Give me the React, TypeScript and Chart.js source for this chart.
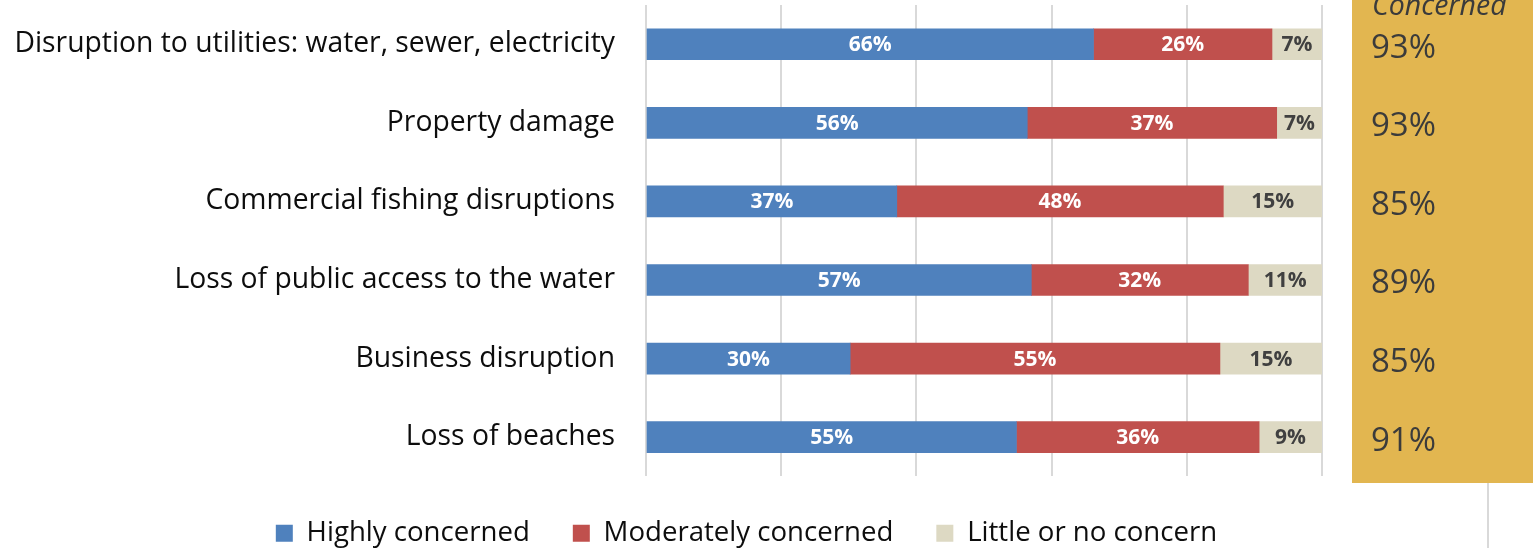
import { useEffect, useRef } from 'react';
import { Chart, registerables } from 'chart.js';

Chart.register(...registerables);

const categories = [
  'Disruption to utilities: water, sewer, electricity',
  'Property damage',
  'Commercial fishing disruptions',
  'Loss of public access to the water',
  'Business disruption',
  'Loss of beaches',
];
const seriesNames = ['Highly concerned', 'Moderately concerned', 'Little or no concern'];
const highlyConcerned = [66.2, 56.4, 37.1, 57.0, 30.2, 54.8];
const moderatelyConcerned = [26.4, 36.9, 48.3, 32.1, 54.7, 35.9];
const littleConcern = [7.4, 6.7, 14.6, 10.9, 15.1, 9.3];
const totalConcerned = [93, 93, 85, 89, 85, 91];
const panelTitle = 'Concerned';

const seriesColors = ['#4F81BD', '#C0504D', '#DDD9C3'];
const labelColors = ['#FFFFFF', '#FFFFFF', '#404040'];

const dataLabelPlugin = {
  id: 'dataLabels',
  afterDatasetsDraw(chart: any) {
    const ctx = chart.ctx;
    ctx.save();
    ctx.font = 'bold 21px "Open Sans"';
    ctx.textAlign = 'center';
    ctx.textBaseline = 'middle';
    chart.data.datasets.forEach((ds: any, di: number) => {
      const meta = chart.getDatasetMeta(di);
      meta.data.forEach((bar: any, i: number) => {
        const v = ds.data[i];
        const cx = (bar.x + bar.base) / 2;
        ctx.fillStyle = labelColors[di];
        ctx.fillText(Math.round(v) + '%', cx, bar.y + 1);
      });
    });
    ctx.restore();
  },
};

const panelPlugin = {
  id: 'concernedPanel',
  afterDraw(chart: any) {
    const ctx = chart.ctx;
    const yScale = chart.scales.y;
    ctx.save();
    ctx.fillStyle = '#E2B650';
    ctx.fillRect(1352, 0, chart.width - 1352, 483);
    ctx.fillStyle = '#3B3B3B';
    ctx.textAlign = 'left';
    ctx.textBaseline = 'alphabetic';
    ctx.font = 'italic 28.5px "Open Sans"';
    ctx.fillText(panelTitle, 1372, 15);
    ctx.font = '33px "Open Sans"';
    totalConcerned.forEach((v, i) => {
      const y = yScale.getPixelForValue(i);
      ctx.fillText(v + '%', 1371, y + 13.5);
    });
    ctx.strokeStyle = '#D9D9D9';
    ctx.lineWidth = 2;
    ctx.beginPath();
    ctx.moveTo(1488, 483);
    ctx.lineTo(1488, chart.height);
    ctx.stroke();
    ctx.restore();
  },
};

export default function App() {
  const ref = useRef<HTMLCanvasElement>(null);
  useEffect(() => {
    if (!ref.current) return;
    const chart = new Chart(ref.current, {
      type: 'bar',
      data: {
        labels: categories,
        datasets: [
          { label: seriesNames[0], data: highlyConcerned, backgroundColor: seriesColors[0] },
          { label: seriesNames[1], data: moderatelyConcerned, backgroundColor: seriesColors[1] },
          { label: seriesNames[2], data: littleConcern, backgroundColor: seriesColors[2] },
        ],
      },
      options: {
        indexAxis: 'y',
        responsive: false,
        maintainAspectRatio: false,
        animation: false,
        datasets: { bar: { barThickness: 31 } },
        layout: { padding: { left: 0, right: 40, top: 5, bottom: -9 } },
        scales: {
          x: {
            stacked: true,
            min: 0,
            max: 100,
            ticks: { display: false, stepSize: 20 },
            grid: { color: '#D9D9D9', lineWidth: 2, drawTicks: false },
            border: { display: false },
            afterFit: (s: any) => { s.height = 0; s.paddingLeft = 0; s.paddingRight = 0; },
          },
          y: {
            stacked: true,
            ticks: { padding: 31, color: '#0D0D0D', font: { family: '"Open Sans"', size: 28.3 } },
            grid: { display: false, drawTicks: false },
            border: { display: false },
            afterFit: (s: any) => { s.width = 646; s.paddingTop = 0; s.paddingBottom = 0; },
          },
          y2: {
            type: 'category',
            position: 'right',
            labels: categories,
            display: true,
            ticks: { display: false },
            grid: { display: false, drawTicks: false },
            border: { display: false },
            afterFit: (s: any) => { s.width = 171; s.paddingTop = 0; s.paddingBottom = 0; },
          },
        },
        plugins: {
          legend: {
            position: 'bottom',
            labels: {
              boxWidth: 17,
              boxHeight: 17,
              padding: 43,
              color: '#0D0D0D',
              font: { family: '"Open Sans"', size: 27.6 },
            },
          },
          tooltip: { enabled: false },
        },
      },
      plugins: [dataLabelPlugin, panelPlugin],
    } as any);
    return () => chart.destroy();
  }, []);
  return (
    <div style={{ position: 'fixed', left: 0, top: 0, width: 1533, height: 548, background: '#fff' }}>
      <canvas ref={ref} width={1533} height={548} />
    </div>
  );
}
